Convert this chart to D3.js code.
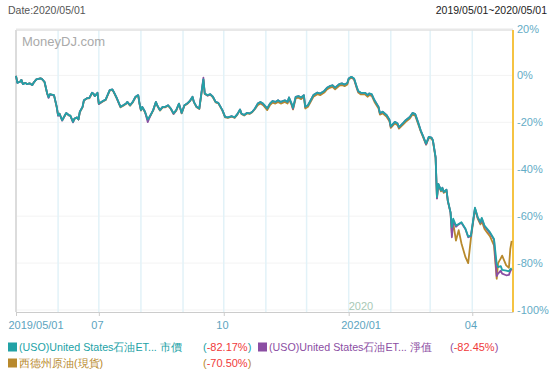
<!DOCTYPE html>
<html>
<head>
<meta charset="utf-8">
<script src="https://cdnjs.cloudflare.com/ajax/libs/d3/7.8.5/d3.min.js"></script>
<style>
  body { margin: 0; background: #fff; }
  svg text { font-family: "Liberation Sans", Arial, sans-serif; }
</style>
</head>
<body>
<div class="chart"></div>
<script>
// USO price / NAV vs WTI spot, % change since 2019/05/01

var dates = [
  "2019-05-01","2019-05-02","2019-05-04","2019-05-05","2019-05-06","2019-05-08","2019-05-09","2019-05-11","2019-05-13","2019-05-14",
  "2019-05-16","2019-05-19","2019-05-20","2019-05-22","2019-05-24","2019-05-25","2019-05-26","2019-05-29","2019-05-31","2019-06-01",
  "2019-06-02","2019-06-04","2019-06-06","2019-06-07","2019-06-09","2019-06-10","2019-06-12","2019-06-13","2019-06-15","2019-06-16",
  "2019-06-17","2019-06-19","2019-06-20","2019-06-22","2019-06-24","2019-06-26","2019-06-27","2019-06-28","2019-06-30","2019-07-01",
  "2019-07-04","2019-07-06","2019-07-09","2019-07-11","2019-07-12","2019-07-14","2019-07-16","2019-07-17","2019-07-19","2019-07-21",
  "2019-07-22","2019-07-24","2019-07-26","2019-07-28","2019-07-30","2019-07-31","2019-08-01","2019-08-02","2019-08-04","2019-08-06",
  "2019-08-08","2019-08-10","2019-08-12","2019-08-13","2019-08-15","2019-08-17","2019-08-19","2019-08-21","2019-08-23","2019-08-25",
  "2019-08-27","2019-08-29","2019-08-31","2019-09-02","2019-09-04","2019-09-06","2019-09-08","2019-09-09","2019-09-11","2019-09-13",
  "2019-09-16","2019-09-17","2019-09-19","2019-09-21","2019-09-23","2019-09-25","2019-09-27","2019-09-30","2019-10-02","2019-10-04",
  "2019-10-07","2019-10-09","2019-10-11","2019-10-13","2019-10-14","2019-10-16","2019-10-18","2019-10-20","2019-10-22","2019-10-24",
  "2019-10-26","2019-10-28","2019-10-30","2019-11-01","2019-11-02","2019-11-04","2019-11-06","2019-11-08","2019-11-10","2019-11-12",
  "2019-11-15","2019-11-17","2019-11-18","2019-11-20","2019-11-21","2019-11-23","2019-11-25","2019-11-27","2019-11-29","2019-11-30",
  "2019-12-02","2019-12-04","2019-12-06","2019-12-09","2019-12-11","2019-12-14","2019-12-16","2019-12-18","2019-12-20","2019-12-22",
  "2019-12-25","2019-12-27","2019-12-29","2019-12-31","2020-01-01","2020-01-03","2020-01-05","2020-01-07","2020-01-08","2020-01-10",
  "2020-01-13","2020-01-15","2020-01-16","2020-01-18","2020-01-20","2020-01-23","2020-01-24","2020-01-26","2020-01-29","2020-01-31",
  "2020-02-01","2020-02-04","2020-02-06","2020-02-07","2020-02-10","2020-02-12","2020-02-15","2020-02-17","2020-02-19","2020-02-21",
  "2020-02-23","2020-02-25","2020-02-27","2020-02-29","2020-03-02","2020-03-03","2020-03-05","2020-03-06","2020-03-07","2020-03-09",
  "2020-03-10","2020-03-11","2020-03-13","2020-03-14","2020-03-16","2020-03-17","2020-03-18","2020-03-20","2020-03-22","2020-03-24",
  "2020-03-27","2020-03-29","2020-03-31","2020-04-02","2020-04-03","2020-04-05","2020-04-07","2020-04-08","2020-04-10","2020-04-12",
  "2020-04-14","2020-04-17","2020-04-19","2020-04-20","2020-04-22","2020-04-23","2020-04-26","2020-04-28","2020-04-29","2020-04-30"
];

// USO market price, % change
var usoPrice = [
  -0.2,-3.2,-2.7,-1.9,-3.7,-3.2,-3.7,-3.4,-4.1,-3.1,
  -1.7,-1.3,-1.5,-2.7,-7.7,-9.3,-8.0,-8.4,-13.4,-17.0,
  -16.3,-19.1,-17.0,-16.0,-17.0,-17.0,-19.8,-18.4,-17.9,-18.8,
  -15.5,-13.4,-10.6,-9.8,-9.6,-7.4,-7.7,-8.8,-7.4,-12.0,
  -10.9,-10.3,-6.3,-6.0,-7.0,-9.4,-12.0,-13.4,-12.7,-12.0,
  -11.3,-12.7,-11.3,-9.1,-8.4,-12.0,-14.8,-13.4,-15.5,-18.8,
  -17.0,-14.8,-11.3,-12.7,-14.8,-13.4,-13.4,-12.7,-14.1,-16.2,
  -14.8,-12.0,-16.0,-12.7,-12.0,-10.9,-9.1,-11.3,-13.4,-14.1,
  -1.7,-7.7,-8.4,-8.0,-9.1,-11.3,-11.7,-14.8,-17.7,-17.9,
  -17.4,-17.9,-16.5,-14.5,-16.2,-16.9,-16.0,-16.2,-15.5,-14.1,
  -12.0,-11.3,-12.0,-13.4,-14.1,-12.0,-10.9,-11.3,-10.6,-11.3,
  -10.6,-11.3,-9.4,-12.0,-13.8,-9.1,-8.8,-9.4,-8.4,-13.4,
  -12.7,-10.6,-8.4,-7.3,-7.7,-6.6,-5.3,-4.6,-4.2,-5.2,
  -3.7,-3.4,-3.9,-3.2,-1.3,-0.6,-1.3,-4.9,-6.6,-7.4,
  -7.4,-8.4,-7.7,-8.0,-10.6,-13.4,-16.0,-15.5,-17.0,-18.8,
  -21.7,-19.8,-20.5,-22.0,-20.3,-19.1,-17.7,-16.0,-16.5,-19.8,
  -23.4,-26.2,-29.1,-26.2,-26.5,-27.6,-34.8,-51.9,-46.2,-49.0,
  -47.9,-49.7,-48.7,-53.3,-58.3,-64.7,-61.1,-64.0,-63.3,-62.6,
  -65.4,-68.7,-68.3,-60.4,-56.4,-60.4,-62.6,-60.7,-64.0,-65.4,
  -66.8,-69.7,-80.3,-81.7,-81.3,-82.9,-83.2,-83.5,-82.6,-82.17
];

// USO net asset value, % change
var usoNav = [
  -0.2,-3.2,-2.7,-1.9,-3.7,-3.2,-3.7,-3.4,-4.1,-3.1,
  -1.7,-1.3,-1.5,-2.7,-7.7,-9.6,-8.2,-8.4,-13.4,-17.2,
  -16.3,-19.3,-17.0,-16.0,-17.0,-17.2,-20.0,-18.4,-17.9,-18.8,
  -15.5,-13.4,-10.6,-9.8,-9.6,-7.4,-7.7,-8.8,-7.4,-12.2,
  -10.9,-10.3,-6.3,-6.0,-7.0,-9.4,-12.2,-13.4,-12.7,-12.0,
  -11.3,-12.7,-11.3,-9.1,-8.4,-12.2,-14.8,-13.4,-15.5,-19.9,
  -17.0,-14.8,-11.3,-12.7,-14.8,-13.4,-13.4,-12.7,-14.1,-16.4,
  -14.8,-12.0,-16.0,-12.7,-12.0,-10.9,-9.1,-11.3,-13.4,-14.1,
  -1.0,-7.7,-8.6,-8.0,-9.1,-11.3,-11.7,-14.8,-17.7,-17.9,
  -17.4,-17.9,-16.5,-14.5,-16.2,-16.9,-16.0,-16.2,-15.5,-14.1,
  -12.0,-11.3,-12.2,-13.4,-14.1,-12.0,-10.9,-11.3,-10.6,-11.3,
  -10.6,-11.3,-9.4,-12.2,-14.2,-9.1,-8.8,-9.4,-8.4,-13.4,
  -12.7,-10.6,-8.4,-7.3,-7.7,-6.6,-5.3,-4.6,-4.2,-5.2,
  -3.7,-3.4,-3.9,-3.2,-1.3,-0.6,-1.5,-5.2,-6.8,-7.4,
  -7.4,-8.4,-7.7,-8.2,-10.6,-13.4,-16.2,-15.5,-17.0,-19.0,
  -21.9,-19.8,-20.5,-22.2,-20.3,-19.1,-17.7,-16.0,-16.5,-19.8,
  -23.4,-26.2,-29.4,-26.2,-26.5,-27.6,-34.8,-52.5,-46.2,-49.0,
  -47.9,-49.7,-48.7,-53.5,-58.5,-69.0,-62.0,-64.5,-63.5,-62.8,
  -65.6,-69.0,-68.5,-60.6,-56.6,-60.6,-62.8,-61.0,-64.3,-65.8,
  -67.2,-70.0,-85.5,-84.5,-83.2,-84.5,-85.2,-85.0,-83.5,-82.45
];

// WTI crude spot, % change
var wtiSpot = [
  -0.2,-3.0,-2.7,-1.9,-3.5,-3.2,-3.7,-3.4,-4.1,-3.1,
  -1.7,-1.3,-1.5,-2.9,-7.9,-9.3,-8.0,-8.6,-13.6,-17.0,
  -16.3,-19.1,-17.2,-16.2,-17.0,-17.2,-19.8,-18.6,-17.9,-18.8,
  -15.7,-13.6,-10.8,-9.8,-9.8,-7.6,-7.9,-8.8,-7.6,-12.2,
  -11.1,-10.5,-6.5,-6.2,-7.2,-9.6,-12.2,-13.6,-12.9,-12.2,
  -11.5,-12.9,-11.5,-9.3,-8.6,-12.2,-15.0,-13.6,-15.7,-19.0,
  -17.2,-15.0,-11.5,-12.9,-15.0,-13.6,-13.6,-12.9,-14.3,-16.4,
  -15.0,-12.2,-16.2,-12.9,-12.2,-11.1,-9.3,-11.5,-13.6,-14.3,
  -1.9,-7.9,-8.6,-8.2,-9.3,-11.5,-11.9,-15.0,-17.9,-18.1,
  -17.6,-18.1,-16.7,-14.7,-16.4,-17.1,-16.2,-16.4,-15.7,-14.3,
  -12.7,-12.0,-12.7,-14.1,-14.8,-12.7,-11.6,-12.0,-11.3,-12.0,
  -11.3,-12.0,-10.1,-12.7,-14.5,-9.8,-9.5,-10.1,-9.1,-14.1,
  -13.4,-11.3,-9.1,-8.0,-8.4,-7.3,-6.0,-5.3,-4.9,-5.9,
  -4.4,-4.1,-4.6,-3.9,-1.8,-0.9,-1.8,-5.6,-7.3,-8.1,
  -8.1,-9.1,-8.4,-8.7,-11.3,-14.1,-16.7,-16.2,-17.7,-19.5,
  -22.4,-20.5,-21.2,-22.7,-21.0,-19.8,-18.4,-16.7,-17.2,-20.5,
  -23.8,-26.6,-29.5,-26.6,-26.9,-28.0,-35.2,-52.3,-46.6,-49.4,
  -48.3,-50.1,-49.1,-53.7,-58.5,-67.5,-63.0,-70.4,-66.0,-71.5,
  -77.5,-80.0,-69.5,-61.0,-57.0,-61.0,-63.5,-62.0,-65.5,-67.0,
  -68.5,-72.5,-86.7,-80.0,-78.0,-76.8,-81.0,-82.0,-74.0,-70.5
];

var legendNames = ["(USO)United States石油ET... 市價", "(USO)United States石油ET... 淨值", "西德州原油(現貨)"];
var legendValues = ["-82.17%", "-82.45%", "-70.50%"];
var seriesColors = ["#22a2a6", "#8b4ea3", "#b8892c"];
var yTicks = [20, 0, -20, -40, -60, -80, -100];
var xTickDates = ["2019-05-01", "2019-07-01", "2019-10-01", "2020-01-01", "2020-04-01"];
var xTickLabels = ["2019/05/01", "07", "10", "2020/01", "04"];

var svgWidth = 554, svgHeight = 377;
var plot = {left: 16, right: 513, top: 30, bottom: 312};
var parse = d3.timeParse("%Y-%m-%d");

var svg = d3.select(".chart").append("svg").attr("width", svgWidth).attr("height", svgHeight);

var x = d3.scaleTime().domain([parse("2019-05-01"), parse("2020-05-01")]).range([plot.left, plot.right]);
var y = d3.scaleLinear().domain([-100, 20]).range([310, 28.5]);

// header texts
svg.append("text").attr("x", 8).attr("y", 14).attr("font-size", "10.5px").attr("fill", "#555").text("Date:2020/05/01");
svg.append("text").attr("x", 547).attr("y", 14).attr("text-anchor", "end").attr("font-size", "10.5px").attr("fill", "#222").text("2019/05/01~2020/05/01");

// horizontal grid
svg.append("g").selectAll("line").data(yTicks).enter().append("line")
  .attr("x1", plot.left).attr("x2", plot.right)
  .attr("y1", d => y(d)).attr("y2", d => y(d))
  .attr("stroke", "#f3f3f3").attr("stroke-width", 1);

// month grid
var months = d3.timeMonth.range(parse("2019-06-01"), parse("2020-05-01"));
svg.append("g").selectAll("line").data(months).enter().append("line")
  .attr("x1", d => x(d)).attr("x2", d => x(d))
  .attr("y1", plot.top).attr("y2", plot.bottom)
  .attr("stroke", "#e2f2f8").attr("stroke-width", 1.5);

// frame
svg.append("line").attr("x1", plot.left).attr("x2", plot.right).attr("y1", plot.top).attr("y2", plot.top).attr("stroke", "#e0e0e0").attr("stroke-width", 1.5);
svg.append("line").attr("x1", plot.left).attr("x2", plot.left).attr("y1", plot.top).attr("y2", plot.bottom).attr("stroke", "#dcdcdc").attr("stroke-width", 2);

svg.append("text").attr("x", 22).attr("y", 46).attr("font-size", "13px").attr("fill", "#aaa").text("MoneyDJ.com");

// year label
svg.append("text").attr("x", x(parse("2020-01-01"))).attr("y", 310).attr("font-size", "11px").attr("fill", "#a8c9b6").text("2020");

// x axis
var bottomAxis = d3.axisBottom(x)
  .tickValues(xTickDates.map(parse))
  .tickFormat((d, i) => xTickLabels[i])
  .tickSize(4).tickSizeOuter(0);
var gx = svg.append("g").attr("transform", `translate(0, ${plot.bottom})`).call(bottomAxis);
gx.select(".domain").attr("stroke", "#cccccc");
gx.selectAll(".tick line").attr("stroke", "#cccccc");
gx.selectAll(".tick text").attr("text-anchor", "start").attr("dx", -8).attr("y", 9)
  .attr("font-size", "11px").attr("fill", "#5da4c0").attr("font-family", "Liberation Sans, Arial, sans-serif");

// right y axis
var rightAxis = d3.axisRight(y).tickValues(yTicks).tickFormat(d => d + "%").tickSize(0).tickPadding(4);
var gy = svg.append("g").attr("transform", `translate(${plot.right}, 0)`).call(rightAxis);
gy.select(".domain").remove();
gy.selectAll(".tick text").attr("font-size", "11px").attr("fill", "#64acc6").attr("font-family", "Liberation Sans, Arial, sans-serif");
svg.append("line").attr("x1", plot.right).attr("x2", plot.right).attr("y1", plot.top).attr("y2", plot.bottom).attr("stroke", "#f5c342").attr("stroke-width", 2);

// lines
var series = [wtiSpot, usoNav, usoPrice];
var colorsDraw = [seriesColors[2], seriesColors[1], seriesColors[0]];
var line = d3.line().x((d, i) => x(parse(dates[i]))).y(d => y(d));
series.forEach(function(s, k) {
  svg.append("path").datum(s).attr("d", line).attr("fill", "none")
    .attr("stroke", colorsDraw[k]).attr("stroke-width", 1.8).attr("stroke-linejoin", "round");
});

// legend
var legendPos = [[8, 351], [258, 351], [8, 367]];
var valueX = [203, 450, 203];
legendNames.forEach(function(name, i) {
  var c = seriesColors[i];
  var g = svg.append("g");
  g.append("rect").attr("x", legendPos[i][0]).attr("y", legendPos[i][1] - 8.5).attr("width", 9).attr("height", 9).attr("fill", c);
  g.append("text").attr("x", legendPos[i][0] + 11).attr("y", legendPos[i][1]).attr("font-size", "10.7px").attr("fill", c).text(name);
  var t = g.append("text").attr("x", valueX[i]).attr("y", legendPos[i][1]).attr("font-size", "11px");
  t.append("tspan").attr("fill", c).text("(");
  t.append("tspan").attr("fill", "#f03a3a").text(legendValues[i]);
  t.append("tspan").attr("fill", c).text(")");
});
</script>
</body>
</html>
